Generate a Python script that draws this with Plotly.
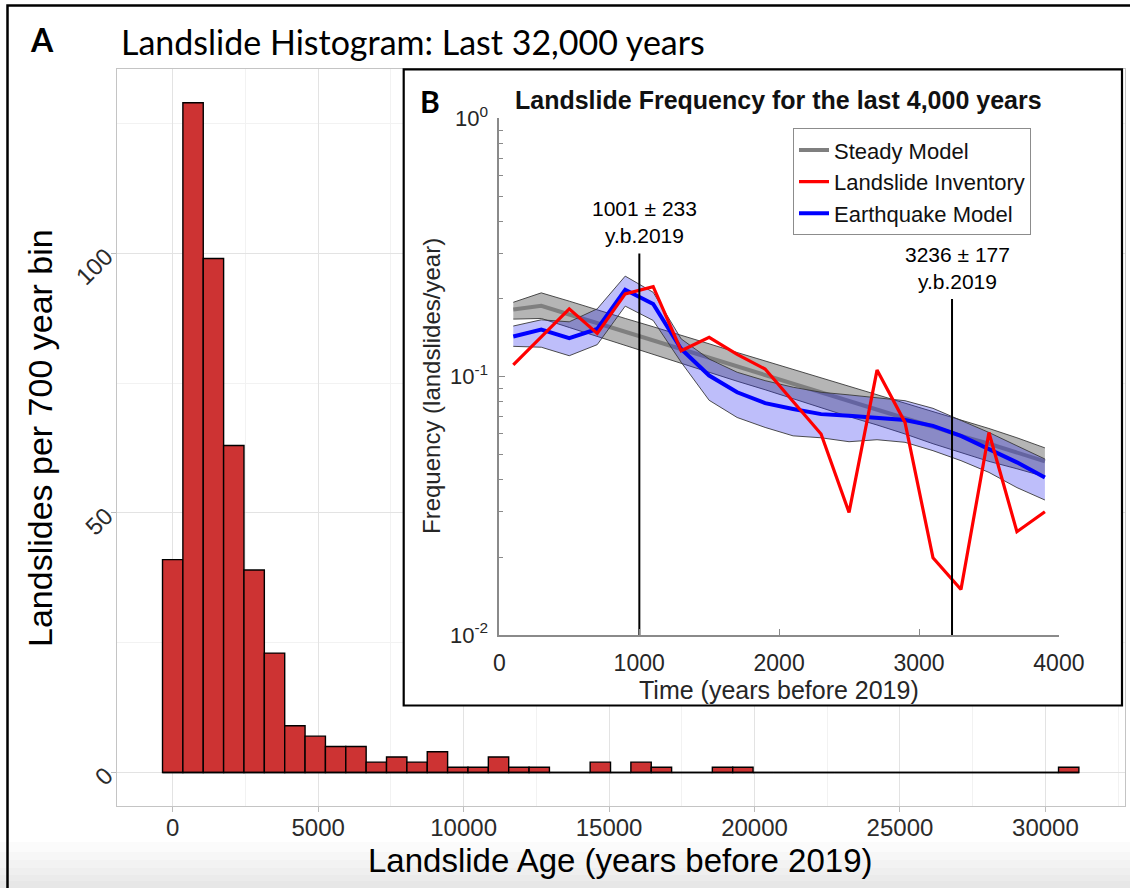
import numpy as np
import plotly.graph_objects as go

# ---------------- Data: Panel A (histogram) ----------------
bin_width = 700
bin_centers = [i * 700 for i in range(45)]
bin_counts = [41, 129, 99, 63, 39, 23, 9, 7, 5, 5,
              2, 3, 2, 4, 1, 1, 3, 1, 1, 0,
              0, 2, 0, 2, 1, 0, 0, 1, 1, 0,
              0, 0, 0, 0, 0, 0, 0, 0, 0, 0,
              0, 0, 0, 0, 1]
hist_xticks = [0, 5000, 10000, 15000, 20000, 25000, 30000]
hist_yticks = [0, 50, 100]

# ---------------- Data: Panel B (frequency) ----------------
years = [100, 300, 500, 700, 900, 1100, 1300, 1500, 1700, 1900,
         2100, 2300, 2500, 2700, 2900, 3100, 3300, 3500, 3700, 3900]
inventory = [0.111, 0.142, 0.183, 0.147, 0.209, 0.223, 0.126, 0.142, 0.122, 0.107,
             0.080, 0.060, 0.0298, 0.106, 0.0665, 0.0199, 0.0150, 0.0608, 0.0251, 0.030]
eq_median = [0.143, 0.152, 0.141, 0.153, 0.217, 0.191, 0.128, 0.101, 0.087, 0.079,
             0.075, 0.0716, 0.0706, 0.0695, 0.068, 0.0645, 0.059, 0.0524, 0.0466, 0.0407]
eq_upper = [0.157, 0.166, 0.163, 0.183, 0.245, 0.212, 0.140, 0.117, 0.104, 0.0965,
            0.091, 0.087, 0.085, 0.083, 0.0807, 0.0754, 0.0675, 0.0608, 0.054, 0.048]
eq_lower = [0.131, 0.130, 0.1205, 0.133, 0.1875, 0.165, 0.1137, 0.081, 0.0695, 0.0636,
            0.059, 0.058, 0.056, 0.057, 0.0557, 0.0517, 0.0473, 0.0426, 0.0372, 0.0333]
steady_median = [0.182, 0.188, 0.174, 0.161, 0.149, 0.138, 0.128, 0.118, 0.110, 0.101,
                 0.094, 0.087, 0.080, 0.074, 0.069, 0.064, 0.059, 0.055, 0.051, 0.047]
steady_upper = [0.194, 0.211, 0.196, 0.181, 0.168, 0.156, 0.145, 0.134, 0.124, 0.115,
                0.107, 0.099, 0.092, 0.085, 0.079, 0.073, 0.068, 0.063, 0.058, 0.053]
steady_lower = [0.167, 0.168, 0.155, 0.143, 0.132, 0.122, 0.113, 0.104, 0.096, 0.089,
                0.082, 0.076, 0.070, 0.065, 0.060, 0.055, 0.051, 0.047, 0.044, 0.041]
event_years = [1001, 3236]
event_errors = [233, 177]
event_line_tops = [0.30, 0.20]
freq_xticks = [0, 1000, 2000, 3000, 4000]
freq_yticks = [0.01, 0.1, 1]
freq_yticklabels = ["10<sup>-2</sup>", "10<sup>-1</sup>", "10<sup>0</sup>"]

W, H = 1130, 888
def px(x):
    return x / W
def py(y):
    return 1 - y / H

SANS = "Liberation Sans"
fig = go.Figure()

# ---- Panel A traces ----
edges_lo = bin_centers[0] - bin_width / 2
edges_hi = bin_centers[-1] + bin_width / 2
fig.add_trace(go.Scatter(x=[edges_lo, edges_hi], y=[0, 0], mode="lines",
                         line=dict(color="black", width=1.5), showlegend=False,
                         hoverinfo="skip", xaxis="x", yaxis="y"))
fig.add_trace(go.Bar(x=bin_centers, y=bin_counts, width=bin_width,
                     marker=dict(color="#CD3333", line=dict(color="black", width=1.4)),
                     showlegend=False, xaxis="x", yaxis="y"))

# ---- cover subplot (white inset background) ----
fig.add_trace(go.Scatter(x=[], y=[], xaxis="x2", yaxis="y2", showlegend=False,
                         hoverinfo="skip"))

# ---- Panel B traces ----
edge = dict(color="#3a3a3a", width=0.9)
fig.add_trace(go.Scatter(x=years, y=steady_upper, mode="lines", line=edge,
                         showlegend=False, hoverinfo="skip", xaxis="x3", yaxis="y3"))
fig.add_trace(go.Scatter(x=years, y=steady_lower, mode="lines", line=edge,
                         fill="tonexty", fillcolor="rgba(120,120,120,0.55)",
                         showlegend=False, hoverinfo="skip", xaxis="x3", yaxis="y3"))
fig.add_trace(go.Scatter(x=years, y=steady_median, mode="lines", name="Steady Model",
                         line=dict(color="#7f7f7f", width=4), legendrank=1,
                         xaxis="x3", yaxis="y3"))
fig.add_trace(go.Scatter(x=years, y=eq_upper, mode="lines", line=edge,
                         showlegend=False, hoverinfo="skip", xaxis="x3", yaxis="y3"))
fig.add_trace(go.Scatter(x=years, y=eq_lower, mode="lines", line=edge,
                         fill="tonexty", fillcolor="rgba(40,40,240,0.30)",
                         showlegend=False, hoverinfo="skip", xaxis="x3", yaxis="y3"))
fig.add_trace(go.Scatter(x=years, y=eq_median, mode="lines", name="Earthquake Model",
                         line=dict(color="#0000ff", width=4), legendrank=3,
                         xaxis="x3", yaxis="y3"))
fig.add_trace(go.Scatter(x=years, y=inventory, mode="lines", name="Landslide Inventory",
                         line=dict(color="#ff0000", width=3.2), legendrank=2,
                         xaxis="x3", yaxis="y3"))
for yr, top in zip(event_years, event_line_tops):
    fig.add_trace(go.Scatter(x=[yr, yr], y=[0.01, top], mode="lines",
                             line=dict(color="black", width=2), showlegend=False,
                             hoverinfo="skip", xaxis="x3", yaxis="y3"))

annotations = []
for yr, err, top in zip(event_years, event_errors, event_line_tops):
    annotations.append(dict(x=yr, y=np.log10(top), xref="x3", yref="y3",
                            text=f"{yr} ± {err}<br>y.b.2019", showarrow=False,
                            xanchor="center", yanchor="bottom", yshift=4, xshift=5,
                            font=dict(family=SANS, size=21, color="black")))

# titles / labels
annotations += [
    dict(x=px(42), y=py(40), xref="paper", yref="paper", text="<b>A</b>",
         showarrow=False, xanchor="center", yanchor="middle",
         font=dict(family="Lato", size=32, color="black")),
    dict(x=px(119), y=py(42), xref="paper", yref="paper",
         text="Landslide Histogram: Last 32,000 years", showarrow=False,
         xanchor="left", yanchor="middle",
         font=dict(family="Lato", size=34, color="black")),
    dict(x=px(40), y=py(438), xref="paper", yref="paper",
         text="Landslides per 700 year bin", showarrow=False, textangle=-90,
         xanchor="center", yanchor="middle",
         font=dict(family=SANS, size=34, color="black")),
    dict(x=px(620), y=py(860), xref="paper", yref="paper",
         text="Landslide Age (years before 2019)", showarrow=False,
         xanchor="center", yanchor="middle",
         font=dict(family=SANS, size=33, color="black")),
    dict(x=px(430), y=py(101), xref="paper", yref="paper", text="<b>B</b>",
         showarrow=False, xanchor="center", yanchor="middle",
         font=dict(family="Lato", size=30, color="black")),
    dict(x=px(778), y=py(100), xref="paper", yref="paper",
         text="<b>Landslide Frequency for the last 4,000 years</b>", showarrow=False,
         xanchor="center", yanchor="middle",
         font=dict(family=SANS, size=25, color="#111111")),
    dict(x=px(431), y=py(386), xref="paper", yref="paper",
         text="Frequency (landslides/year)", showarrow=False, textangle=-90,
         xanchor="center", yanchor="middle",
         font=dict(family=SANS, size=24, color="#262626")),
    dict(x=px(779), y=py(690), xref="paper", yref="paper",
         text="Time (years before 2019)", showarrow=False,
         xanchor="center", yanchor="middle",
         font=dict(family=SANS, size=25, color="#262626")),
]

shapes = []
# bottom shading
for yy in [842, 852, 860, 868, 875, 881]:
    shapes.append(dict(type="rect", xref="paper", yref="paper", x0=0, x1=1,
                       y0=0, y1=py(yy), line=dict(width=0),
                       fillcolor="rgba(0,0,0,0.015)", layer="above"))
# outer frame (left and top)
shapes.append(dict(type="path", xref="paper", yref="paper",
                   path=f"M {px(7.5)} 0 L {px(7.5)} {py(5.5)} L 1 {py(5.5)}",
                   line=dict(color="black", width=2.5), layer="above"))
# inset frame
shapes.append(dict(type="rect", xref="paper", yref="paper",
                   x0=px(403.7), x1=px(1122), y0=py(705.5), y1=py(69.3),
                   line=dict(color="black", width=2.2), layer="above"))

fig.update_layout(
    width=W, height=H,
    margin=dict(l=0, r=0, t=0, b=0),
    paper_bgcolor="white", plot_bgcolor="white",
    barmode="overlay",
    showlegend=True,
    legend=dict(x=px(793), y=py(128.3), xanchor="left", yanchor="top",
                bgcolor="white", bordercolor="#8c8c8c", borderwidth=1,
                font=dict(family=SANS, size=22, color="#111111"),
                tracegroupgap=0, itemwidth=30, traceorder="normal"),
    xaxis=dict(domain=[px(116.7), px(1124.7)], range=[-1925, 32725],
               tickvals=hist_xticks, tickformat="d", showgrid=True,
               gridcolor="#e3e3e3", gridwidth=1,
               minor=dict(dtick=2500, tick0=0, showgrid=True, gridcolor="#f2f2f2"),
               zeroline=False, showline=True, linecolor="#c4c4c4", linewidth=1,
               mirror=True, ticks="outside", ticklen=5, tickcolor="#bdbdbd",
               ticklabelstandoff=-5,
               tickfont=dict(family=SANS, size=24, color="#2b2b2b"),
               anchor="y", automargin=False),
    yaxis=dict(domain=[py(806), py(69.3)], range=[-6.45, 135.45],
               tickvals=hist_yticks, tickangle=-45, showgrid=True,
               gridcolor="#e3e3e3", gridwidth=1,
               minor=dict(dtick=25, tick0=0, showgrid=True, gridcolor="#f2f2f2"),
               zeroline=False, showline=True, linecolor="#c4c4c4", linewidth=1,
               mirror=True, ticks="outside", ticklen=5, tickcolor="#bdbdbd",
               tickfont=dict(family=SANS, size=24, color="#2b2b2b"),
               anchor="x", automargin=False),
    xaxis2=dict(domain=[px(403.7), px(1122)], range=[0, 1], visible=False,
                anchor="y2", showgrid=False, zeroline=False, fixedrange=True),
    yaxis2=dict(domain=[py(705.5), py(69.3)], range=[0, 1], visible=False,
                anchor="x2", showgrid=False, zeroline=False, fixedrange=True),
    xaxis3=dict(domain=[px(499.3), px(1058.9)], range=[0, 4000],
                tickvals=freq_xticks, showgrid=False, zeroline=False,
                showline=True, linecolor="#8a8a8a", linewidth=1.5,
                ticks="inside", ticklen=6, tickcolor="#8a8a8a",
                ticklabelstandoff=7,
                tickfont=dict(family=SANS, size=23, color="#262626"),
                anchor="y3", automargin=False),
    yaxis3=dict(domain=[py(635), py(118.3)], type="log", range=[-2, 0],
                tickvals=freq_yticks, ticktext=freq_yticklabels,
                showgrid=False, zeroline=False,
                showline=True, linecolor="#8a8a8a", linewidth=1.5,
                ticks="inside", ticklen=6, tickcolor="#8a8a8a",
                minor=dict(ticks="inside", ticklen=4, tickcolor="#8a8a8a",
                           dtick="D1", showgrid=False),
                ticklabelstandoff=5,
                tickfont=dict(family=SANS, size=22, color="#262626"),
                anchor="x3", automargin=False),
    annotations=annotations,
    shapes=shapes,
)

fig.write_html("out.html", config={"displayModeBar": False},
               post_script="document.body.style.margin='0';")
